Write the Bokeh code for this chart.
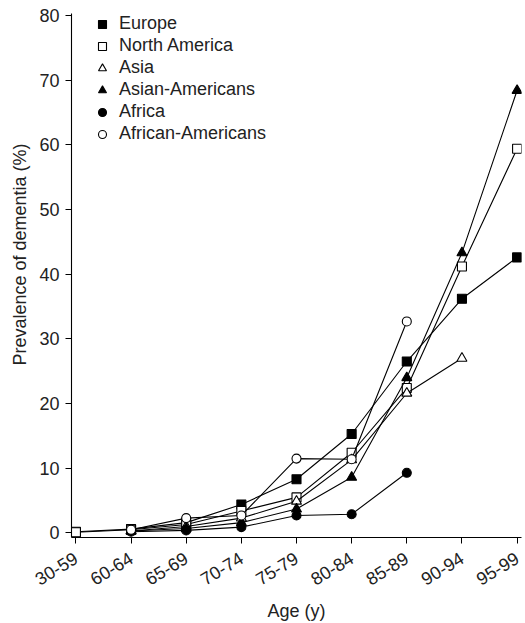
from bokeh.plotting import figure
from bokeh.models import Range1d, FixedTicker, Legend, LegendItem, ColumnDataSource, Title
from bokeh.embed import file_html
from bokeh.resources import INLINE

age_groups = ["30-59", "60-64", "65-69", "70-74", "75-79", "80-84", "85-89", "90-94", "95-99"]

europe = [0.2, 0.6, 1.6, 4.4, 8.3, 15.3, 26.5, 36.2, 42.6]
north_america = [0.1, 0.5, 1.3, 3.4, 5.5, 12.4, 22.4, 41.2, 59.4]
asia = [None, 0.3, 1.0, 2.3, 4.9, 11.3, 21.6, 27.0, None]
asian_americans = [None, 0.3, 0.7, 1.6, 3.7, 8.6, 24.0, 43.3, 68.4]
africa = [None, 0.2, 0.4, 0.9, 2.7, 2.9, 9.3, None, None]
african_americans = [None, 0.5, 2.3, 2.7, 11.5, 11.4, 32.7, None, None]

series = [
    ("Europe", europe, "square", "black"),
    ("North America", north_america, "square", "white"),
    ("Asia", asia, "triangle", "white"),
    ("Asian-Americans", asian_americans, "triangle", "black"),
    ("Africa", africa, "circle", "black"),
    ("African-Americans", african_americans, "circle", "white"),
]

FONT = "Liberation Sans"
FS = "18px"
TXT = "#222222"

p = figure(width=525, height=623, output_backend="svg", toolbar_location=None,
           x_range=Range1d(-0.08, 8.08), y_range=Range1d(-0.7, 80.3),
           min_border_left=71, min_border_right=4, min_border_top=13, min_border_bottom=81)
p.outline_line_color = None
p.grid.grid_line_color = None
p.background_fill_color = "white"

items = []
for name, vals, marker, fill in series:
    xs = [i for i, v in enumerate(vals) if v is not None]
    ys = [v for v in vals if v is not None]
    src = ColumnDataSource(dict(x=xs, y=ys))
    p.line("x", "y", source=src, line_color="black", line_width=1.1)
    size = 10 if marker == "triangle" else 9
    r = p.scatter("x", "y", source=src, marker=marker, size=size, fill_color=fill,
                  line_color="black", line_width=1.1)
    items.append(LegendItem(label=name, renderers=[r]))

legend = Legend(items=items, location=(21, 393), padding=0, margin=0, spacing=1,
                glyph_width=20, glyph_height=20, label_height=20, label_standoff=7,
                label_text_font=FONT, label_text_font_size=FS, label_text_color=TXT,
                border_line_color=None, background_fill_alpha=0)
p.add_layout(legend)

p.xaxis.ticker = FixedTicker(ticks=list(range(len(age_groups))))
p.xaxis.major_label_overrides = {i: g for i, g in enumerate(age_groups)}
p.xaxis.major_label_orientation = 0.55
p.yaxis.ticker = FixedTicker(ticks=[0, 10, 20, 30, 40, 50, 60, 70, 80])

for ax in (p.xaxis[0], p.yaxis[0]):
    ax.axis_line_color = "black"
    ax.axis_line_width = 1.1
    ax.major_tick_line_color = "black"
    ax.major_tick_in = 0
    ax.major_tick_out = 6
    ax.minor_tick_line_color = None
    ax.major_label_text_font = FONT
    ax.major_label_text_font_size = FS
    ax.major_label_text_color = TXT
    ax.axis_label_text_font = FONT
    ax.axis_label_text_font_size = FS
    ax.axis_label_text_font_style = "normal"
    ax.axis_label_text_color = TXT

p.xaxis.major_label_standoff = 13
p.yaxis.major_label_standoff = 6
p.xaxis.axis_label = "Age (y)"
p.xaxis.axis_label_standoff = 6

ytitle = Title(text="Prevalence of dementia (%)", align="right", offset=130,
               vertical_align="middle", standoff=12,
               text_font=FONT, text_font_size=FS, text_font_style="normal", text_color=TXT)
p.add_layout(ytitle, "left")

open("out.html", "w").write(file_html(p, INLINE))
